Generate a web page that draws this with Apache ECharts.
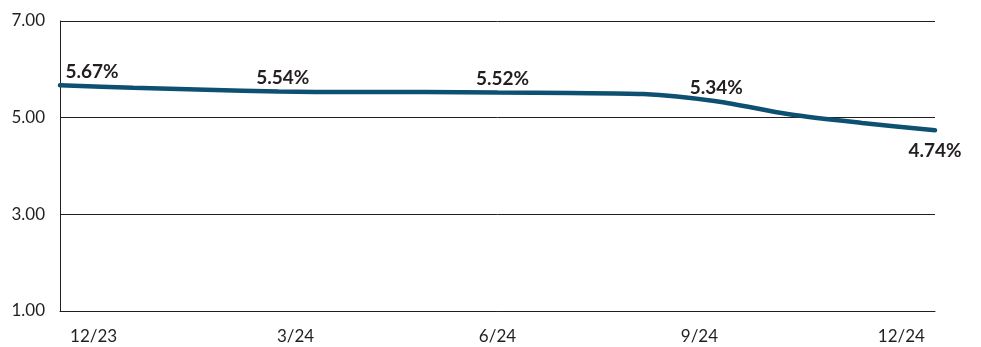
<!DOCTYPE html>
<html><head><meta charset="utf-8">
<script src="https://cdn.jsdelivr.net/npm/echarts@6/dist/echarts.min.js"></script>
<style>html,body{margin:0;padding:0;background:#fff}#c{width:981px;height:347px}</style>
</head><body><div id="c"></div>
<script>
const months = ['12/23','1/24','2/24','3/24','4/24','5/24','6/24','7/24','8/24','9/24','10/24','11/24','12/24'];
const rates = [5.67,5.62,5.58,5.54,5.53,5.53,5.52,5.51,5.49,5.34,5.07,4.89,4.74];
const labeledIdx = [0,3,6,9,12];
const yMin = 1, yMax = 7, yStep = 2;

const labelOffsets = {0:[32,0],3:[4,0],6:[5,0],9:[0,0],12:[0,0]};
const seriesData = rates.map((v,i)=>{
  if (labeledIdx.indexOf(i) < 0) return v;
  const below = i === rates.length-1;
  return {
    value: v,
    label: {
      show: true,
      position: below ? 'bottom' : 'top',
      distance: below ? 11 : 4,
      offset: labelOffsets[i],
      formatter: v.toFixed(2)+'%'
    }
  };
});

const chart = echarts.init(document.getElementById('c'), null, {renderer:'canvas'});
chart.setOption({
  animation: false,
  backgroundColor: '#fff',
  grid: {left: 60, right: 46, top: 21, bottom: 36, containLabel: false},
  xAxis: [{
    type: 'category', data: months, boundaryGap: false,
    axisLine: {show: true, lineStyle: {color: '#231f20', width: 1}},
    axisTick: {show: false}, axisLabel: {show: false}, splitLine: {show: false}
  },{
    type: 'category', data: months, boundaryGap: true, position: 'bottom',
    axisLine: {show: false}, axisTick: {show: false}, splitLine: {show: false},
    axisLabel: {interval: 2, margin: 17, color: '#231f20', fontFamily: 'Lato', fontSize: 17}
  }],
  yAxis: {
    type: 'value', min: yMin, max: yMax, interval: yStep,
    axisLine: {show: true, lineStyle: {color: '#231f20', width: 1}},
    axisTick: {show: false},
    splitLine: {show: true, lineStyle: {color: '#231f20', width: 1}},
    axisLabel: {formatter: v => v.toFixed(2), margin: 15, color: '#231f20', fontFamily: 'Lato', fontSize: 17}
  },
  series: [{
    type: 'line', xAxisIndex: 0, data: seriesData, smooth: 0.3,
    symbol: 'circle', symbolSize: 0, showSymbol: true,
    lineStyle: {color: '#0d5071', width: 4.5, cap: 'round'},
    itemStyle: {color: '#0d5071'},
    label: {color: '#231f20', fontFamily: 'Lato', fontWeight: 'bold', fontSize: 19},
    emphasis: {disabled: true}
  }]
});
</script></body></html>
